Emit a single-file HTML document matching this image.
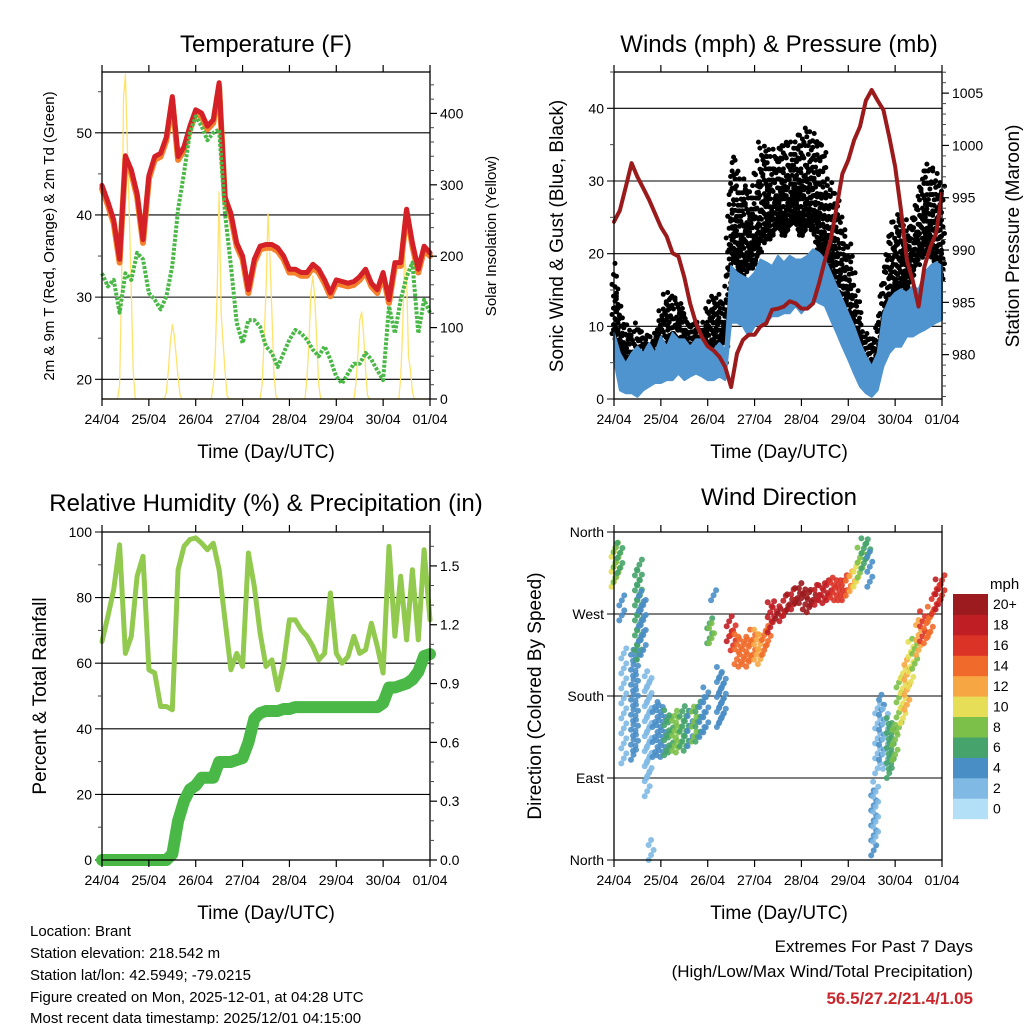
<!DOCTYPE html>
<html><head><meta charset="utf-8"><title>Brant station meteogram</title>
<style>
html,body{margin:0;padding:0;background:#fff;}
svg{display:block;font-family:"Liberation Sans",Arial,sans-serif;}
</style></head>
<body>
<svg id="chart" width="1024" height="1024" viewBox="0 0 1024 1024" xmlns="http://www.w3.org/2000/svg">
<rect x="0" y="0" width="1024" height="1024" fill="#fff"/>
<g id="layer-grid"></g>
<g id="layer-data"></g>
<g id="layer-axes"></g>

<text x="266" y="52" font-size="24" text-anchor="middle">Temperature (F)</text>
<text x="779" y="52" font-size="24" text-anchor="middle">Winds (mph) &amp; Pressure (mb)</text>
<text x="266" y="511" font-size="24" text-anchor="middle">Relative Humidity (%) &amp; Precipitation (in)</text>
<text x="779" y="505" font-size="24" text-anchor="middle">Wind Direction</text>

<text x="266" y="458" font-size="19" text-anchor="middle">Time (Day/UTC)</text>
<text x="779" y="458" font-size="19" text-anchor="middle">Time (Day/UTC)</text>
<text x="266" y="919" font-size="19" text-anchor="middle">Time (Day/UTC)</text>
<text x="779" y="919" font-size="19" text-anchor="middle">Time (Day/UTC)</text>

<text transform="translate(54,236) rotate(-90)" font-size="15" text-anchor="middle">2m &amp; 9m T (Red, Orange) &amp; 2m Td (Green)</text>
<text transform="translate(496,236) rotate(-90)" font-size="15" text-anchor="middle">Solar Insolation (Yellow)</text>
<text transform="translate(563,236) rotate(-90)" font-size="19" text-anchor="middle">Sonic Wind &amp; Gust (Blue, Black)</text>
<text transform="translate(1019,236) rotate(-90)" font-size="19" text-anchor="middle">Station Pressure (Maroon)</text>
<text transform="translate(46,696) rotate(-90)" font-size="19" text-anchor="middle">Percent &amp; Total Rainfall</text>
<text transform="translate(541,696) rotate(-90)" font-size="19" text-anchor="middle">Direction (Colored By Speed)</text>

<text x="990" y="589" font-size="15">mph</text>

<g font-size="15">
<text x="30" y="936">Location: Brant</text>
<text x="30" y="958">Station elevation: 218.542 m</text>
<text x="30" y="980">Station lat/lon: 42.5949; -79.0215</text>
<text x="30" y="1002">Figure created on Mon, 2025-12-01, at 04:28 UTC</text>
<text x="30" y="1023">Most recent data timestamp: 2025/12/01 04:15:00</text>
</g>
<text x="973" y="952" font-size="17" text-anchor="end">Extremes For Past 7 Days</text>
<text x="973" y="977" font-size="17" text-anchor="end">(High/Low/Max Wind/Total Precipitation)</text>
<text x="973" y="1004" font-size="17" font-weight="bold" fill="#c8282d" text-anchor="end">56.5/27.2/21.4/1.05</text>
</svg>

<script>
// ---------- data (3-hourly, hours 0..168) ----------
const dayLabels = ['24/04','25/04','26/04','27/04','28/04','29/04','30/04','01/04'];
const tempRed = [43.6,41.6,39.4,34.6,47.2,45.5,42.6,37,44.8,47.1,47.5,49.5,54.4,47.1,48.3,50.8,52.8,52.4,50.8,51.6,56.1,42.2,40.2,36.6,35,30.9,34.6,36.2,36.4,36.4,36,35,33.4,33.4,33,33,34,33.4,32.1,30.5,32.1,31.9,31.7,31.9,32.5,33.4,31.7,30.9,33,29.7,34.2,34.2,40.7,36.6,33.4,36.2,35.4];
const dewGreen = [32.9,31.3,32.1,28.1,32.9,32.1,35.4,34.6,30.5,29.7,28.5,30.1,33.8,40.7,45.1,50,52,50.8,49.1,50,50.4,40.2,33.8,26.9,24.4,27.2,27.2,26.4,24,23.2,21.5,23.2,24.8,26,25.6,24.8,23.6,22.8,24,22.4,20.3,19.5,20.7,21.9,21.9,23.2,22.4,21.1,19.9,28.9,25.6,29.7,32.5,34.2,25.6,29.7,28.1];
const solarHours = [8,9,10,11,12,13,14,15,16,17, 32,33,34,35,36,37,38,39,40,41, 56,57,58,59,60,61,62,63,64,65, 81,82,83,84,85,86,87,88,89,90, 104,105,106,107,108,109,110,111,112, 129,130,131,132,133,134,135,136,137, 152,153,154,155,156,157,158,159,160];
const solarValues = [0,20,150,420,455,350,260,150,40,0, 0,10,40,80,104,90,60,30,5,0, 0,20,60,150,290,120,80,40,5,0, 0,20,80,150,260,200,120,40,5,0, 0,30,80,150,172,140,80,20,0, 0,20,60,110,122,90,40,5,0, 0,30,100,200,170,60,40,10,0];
const pressure = [992.7,993.8,996,998.3,997,995.9,994.8,993.5,992.2,991.3,989.7,989.4,987.4,984.9,983,981.7,980.8,980.4,979.8,978.8,976.9,980.1,981.4,981.9,981.9,982.7,983,984.3,984.4,984.6,985.1,984.9,984.4,984.4,984.9,986.8,989,991,994.1,997.3,998.6,1000.5,1001.8,1004.3,1005.3,1004.3,1003.4,1000.8,998,993.8,989,987.1,984.6,988.4,990.3,991.6,995.4];
const windHi = [9.1,6.3,4.9,6.3,7.2,6.3,7.7,6.3,8.6,7.2,9.1,8.2,8.2,7.2,8.2,8.2,7.2,6.8,7.7,6.8,18.3,17.4,16.9,16.5,17.4,19.2,18.8,18.3,19.7,18.8,19.7,19.2,19.2,19.7,20.6,20.1,19.2,17.4,15.5,13.7,11.8,10.0,7.7,5.9,4.5,6.3,11.8,13.7,14.6,15.1,14.6,15.5,15.1,17.4,18.3,18.8,18.3];
const windLo = [5.4,1.2,0.8,0.8,0.3,1.2,1.7,2.2,2.2,2.6,2.6,3.5,2.6,3.1,3.5,3.1,2.6,2.6,3.1,2.6,10.5,10.5,10,8.6,10,10.5,10.5,11.4,11.4,11.8,11.8,12.8,11.8,12.8,13.7,13.2,12.8,10.9,9.1,7.2,5.4,3.5,1.7,0.8,0.3,1.2,4.5,6.3,7.2,7.2,8.6,8.6,9.1,9.5,10,10.5,10.9];
const gustHi = [19,13,10,9,11,8,9,10,13,15,14,14,12,11,11,10,13,15,14,13,34,32,30,28,31,36,35,34,35,36,35,37,36,38,37,36,34,30,28,25,22,18,12,9,8,10,18,23,26,24,25,25,28,32,33,31,30];
const gustLo = [9,5,2,2,3,2,2,4,4,5,4,5,5,6,5,5,5,6,5,5,20,17,17,18,18,21,22,22,24,22,24,24,22,24,23,20,18,16,14,11,9,6,3,2,1,3,7,10,14,15,15,17,19,20,20,17,16];
const rh = [66.6,74.3,82.4,96.1,63,68.2,86.5,92.6,58,57,46.8,46.8,45.8,88.5,95.6,97.7,98.2,96.6,94.6,96.6,88.5,73.2,58,63,59,93.6,83.4,69.2,59,61,51.9,60,73.2,73.2,70.2,68.2,65.1,61,63,81.4,63,60,62,68.2,63,64.1,72.2,65.1,57,95.6,68.2,86.5,67.1,88.5,67.1,94.6,73.2];
const precip = [0,0,0,0,0,0,0,0,0,0,0,0,0.03,0.2,0.3,0.36,0.38,0.42,0.42,0.42,0.5,0.5,0.5,0.51,0.52,0.6,0.72,0.75,0.76,0.76,0.76,0.77,0.77,0.78,0.78,0.78,0.78,0.78,0.78,0.78,0.78,0.78,0.78,0.78,0.78,0.78,0.78,0.78,0.8,0.88,0.88,0.89,0.9,0.92,0.96,1.04,1.05];
// wind direction clusters: hour, min direction, max direction, speed (mph)
const dirHours = [0,1,2,3,4,5, 10,11,12,13,14,15, 17,18,19, 21,23,25,27,29,31,33,35,37,39,41,43,45,47, 49,50,51, 54,55,56, 59,61,63,65,67,69,71,73,75,77,79, 80,82,84,86,88,90,92,94,96,98,100,102,104,106,108,110,112,114, 116,118,120,122,124,126,128,130,131, 133,134,135,137,139,141,142,144,146,148,150,152,154,156,158,160,162,164,166,168];
const dirLo = [300,305,310,315,263,106, 110,120,230,220,240,225, 70,90,0, 113,115,113,115,118,120,118,125,120,125,130,130,135,140, 238,238,285, 146,150,155, 240,230,215,212,215,212,220,220,215,225,235, 250,262,265,262,268,275,275,282,282,275,272,280,280,285,282,285,288,285, 285,285,290,295,300,310,320,330,300, 5,20,95,110,100,90,100,110,140,150,165,190,210,225,240,238,245,270,275,285];
const dirHi = [340,345,350,352,293,234, 234,230,320,330,300,290, 208,200,22, 175,170,172,165,160,165,160,170,168,165,170,175,180,190, 267,262,300, 216,210,200, 270,262,250,245,245,250,255,255,250,255,262, 285,285,280,282,290,295,300,300,305,298,295,300,302,305,305,308,310,310, 312,315,315,320,330,345,355,355,340, 80,90,175,185,170,160,150,150,205,215,225,240,245,265,275,270,280,300,310,315];
const dirSpeed = [9,8,7,6,3,2, 4,4,5,6,4,4, 2,2,1, 3,4,4,5,6,7,7,6,5,4,7,5,4,4, 6,7,4, 4,4,4, 17,16,14,13,13,14,13,12,12,13,14, 17,18,19,18,18,19,18,20,20,20,19,19,18,18,17,17,16,15, 16,15,14,11,9,7,6,5,4, 3,2,2,3,2,6,6,7,8,10,11,10,8,12,15,14,13,16,18,16];
const speedLabels = ['0','2','4','6','8','10','12','14','16','18','20+'];
const speedColors = ['#b3e0f7','#7fb9e4','#4a8ec6','#46a36c','#7cc04a','#e6de57','#f6a744','#f06b2b','#dc3327','#bf1e24','#9b1b1e'];

// ---------- panels ----------
const NS = 'http://www.w3.org/2000/svg';
const gGrid = document.getElementById('layer-grid');
const gData = document.getElementById('layer-data');
const gAxes = document.getElementById('layer-axes');
const P1 = {x0:102,x1:430,y0:72,y1:399,lmin:17.6,lmax:57.4,rmin:0,rmax:458};
const P2 = {x0:614,x1:942,y0:72,y1:399,lmin:0,lmax:45.0,rmin:975.76,rmax:1007.02};
const P3 = {x0:102,x1:430,y0:532,y1:860,lmin:0,lmax:100,rmin:0,rmax:1.673};
const P4 = {x0:614,x1:942,y0:532,y1:860,lmin:0,lmax:360};
function sx(p,h){return p.x0+h/168*(p.x1-p.x0);}
function syL(p,v){return p.y1-(v-p.lmin)/(p.lmax-p.lmin)*(p.y1-p.y0);}
function syR(p,v){return p.y1-(v-p.rmin)/(p.rmax-p.rmin)*(p.y1-p.y0);}
function el(tag,parent,attrs){const e=document.createElementNS(NS,tag);for(const k in attrs)e.setAttribute(k,attrs[k]);parent.appendChild(e);return e;}
const hours3 = precip.map((_,i)=>i*3);

function drawFrame(p,name,leftTicks,leftMinor,leftFmt,rightTicks,rightMinor,rightFmt,leftLabels){
  const f = el('rect',gAxes,{x:p.x0,y:p.y0,width:p.x1-p.x0,height:p.y1-p.y0,fill:'none',stroke:'#000','stroke-width':1.3});
  
  
  for(let d=0; d<dayLabels.length; d++){
    const x = sx(p,d*24);
    const tb = el('line',gAxes,{x1:x,x2:x,y1:p.y1,y2:p.y1+7,stroke:'#000','stroke-width':1.2});
    
    
    const tt = el('line',gAxes,{x1:x,x2:x,y1:p.y0,y2:p.y0-7,stroke:'#000','stroke-width':1.2});
    
    
    const lb = el('text',gAxes,{x:x,y:p.y1+25,'font-size':14,'text-anchor':'middle'});
    lb.textContent = dayLabels[d];
    
    
  }
  leftTicks.forEach((v,i)=>{
    const y = syL(p,v);
    const gl = el('line',gGrid,{x1:p.x0-7,x2:p.x1,y1:y,y2:y,stroke:'#000','stroke-width':1.1});
    
    
    const lb = el('text',gAxes,{x:p.x0-10,y:y+5,'font-size':14,'text-anchor':'end'});
    lb.textContent = leftLabels ? leftLabels[i] : leftFmt(v);
    
    
  });
  leftMinor.forEach(v=>{
    const y = syL(p,v);
    const t = el('line',gAxes,{x1:p.x0-4,x2:p.x0,y1:y,y2:y,stroke:'#444','stroke-width':1});
    
    
  });
  rightTicks.forEach(v=>{
    const y = syR(p,v);
    const t = el('line',gAxes,{x1:p.x1,x2:p.x1+7,y1:y,y2:y,stroke:'#000','stroke-width':1.2});
    
    
    const lb = el('text',gAxes,{x:p.x1+10,y:y+5,'font-size':14,'text-anchor':'start'});
    lb.textContent = rightFmt(v);
    
    
  });
  rightMinor.forEach(v=>{
    const y = syR(p,v);
    const t = el('line',gAxes,{x1:p.x1,x2:p.x1+4,y1:y,y2:y,stroke:'#444','stroke-width':1});
    
    
  });
}
function range(a,b,s){const r=[];for(let v=a;v<=b+1e-9;v+=s)r.push(+v.toFixed(3));return r;}
function lineTo(p,xs,ys,yfn,attrs,name){
  const pts = xs.map((h,i)=>sx(p,h).toFixed(1)+','+yfn(p,ys[i]).toFixed(1)).join(' ');
  const e = el('polyline',gData,Object.assign({points:pts,fill:'none','stroke-linejoin':'round','stroke-linecap':'round'},attrs));
  
  
  return e;
}
function interp(arr,h){const i=Math.min(Math.floor(h/3),arr.length-2);const f=(h-i*3)/3;return arr[i]+(arr[i+1]-arr[i])*f;}

// ---- Panel 1: Temperature ----
drawFrame(P1,'temperature',[20,30,40,50],range(25,55,10),v=>String(v),[0,100,200,300,400],range(20,440,20).filter(v=>v%100),v=>String(v));
const solarFull = [];
for(let h=0;h<=168;h++){const k=solarHours.indexOf(h);solarFull.push(k>=0?solarValues[k]:0);}
lineTo(P1,solarFull.map((_,h)=>h),solarFull,syR,{stroke:'#fde36b','stroke-width':1.3},'solar-insolation-line');
lineTo(P1,hours3,tempRed.map(v=>v-0.4),syL,{stroke:'#f4812b','stroke-width':6},'temp-9m-line');
lineTo(P1,hours3,tempRed,syL,{stroke:'#d42027','stroke-width':5},'temp-2m-line');
lineTo(P1,hours3,dewGreen,syL,{stroke:'#4ab847','stroke-width':4,'stroke-dasharray':'3 1.5','stroke-linecap':'butt'},'dewpoint-line');

// ---- Panel 2: Winds & Pressure ----
drawFrame(P2,'winds',[0,10,20,30,40],range(5,45,10),v=>String(v),[980,985,990,995,1000,1005],range(976,1007,1).filter(v=>v%5),v=>String(v));
let col = 0;
for(let h=0;h<=168;h+=0.75){
  const lo=interp(gustLo,h), hi=interp(gustHi,h);
  const yl=syL(P2,lo), yh=syL(P2,hi);
  let y = yl - (col%3)*2;
  let step = 4;
  let k = 0;
  while(y >= yh){
    const dx = ((k+col)%4)*1.5 - 2;
    const c = el('circle',gData,{cx:(sx(P2,h)+dx).toFixed(1),cy:y.toFixed(1),r:2.5,fill:'#000'});
    
    
    k++;
    step = 4 + (yl - y)*0.12;
    y -= step;
  }
  col++;
}
{
  const top = hours3.map((h,i)=>sx(P2,h).toFixed(1)+','+syL(P2,windHi[i]).toFixed(1));
  const bot = hours3.map((h,i)=>sx(P2,h).toFixed(1)+','+syL(P2,windLo[i]).toFixed(1)).reverse();
  const band = el('polygon',gData,{points:top.concat(bot).join(' '),fill:'#4f94cf',stroke:'#4f94cf','stroke-width':2,'stroke-linejoin':'round'});
  
  
}
lineTo(P2,hours3,pressure,syR,{stroke:'#9b1a1c','stroke-width':4},'pressure-line');

// ---- Panel 3: RH & Precip ----
drawFrame(P3,'humidity',[0,20,40,60,80,100],range(10,90,20),v=>String(v),[0,0.3,0.6,0.9,1.2,1.5],range(0.1,1.6,0.1).filter(v=>Math.round(v*10)%3),v=>v.toFixed(1));
lineTo(P3,hours3,rh,syL,{stroke:'#92c94f','stroke-width':5},'humidity-line');
lineTo(P3,hours3,precip,syR,{stroke:'#4ab847','stroke-width':12},'precipitation-line');

// ---- Panel 4: Wind direction ----
drawFrame(P4,'direction',[0,90,180,270,360],[],v=>'',[],[],v=>'',['North','East','South','West','North']);
dirHours.forEach((h,i)=>{
  const idx = Math.min(10, Math.floor((dirSpeed[i]+1)/2));
  const yl = syL(P4,dirLo[i]), yh = syL(P4,dirHi[i]);
  let k=0;
  for(let y=yl; y>=yh-0.1; y-=5){
    const dx = (k%3)*2.5 - 2.5;
    const c = el('circle',gData,{cx:(sx(P4,h)+dx).toFixed(1),cy:y.toFixed(1),r:3,fill:speedColors[idx],'fill-opacity':0.9});
    
    
    k++;
  }
});
// colorbar
const cbX=953, cbW=35, cbTop=594, cbH=224.7, cbN=speedLabels.length;
speedLabels.forEach((lab,i)=>{
  const y = cbTop + (cbN-1-i)*cbH/cbN;
  const r = el('rect',gAxes,{x:cbX,y:y.toFixed(1),width:cbW,height:(cbH/cbN+0.5).toFixed(1),fill:speedColors[i]});
  
  
  const t = el('text',gAxes,{x:cbX+cbW+5,y:(y+cbH/cbN/2+5).toFixed(1),'font-size':14});
  t.textContent = lab;
  
  
});
</script>
</body></html>
